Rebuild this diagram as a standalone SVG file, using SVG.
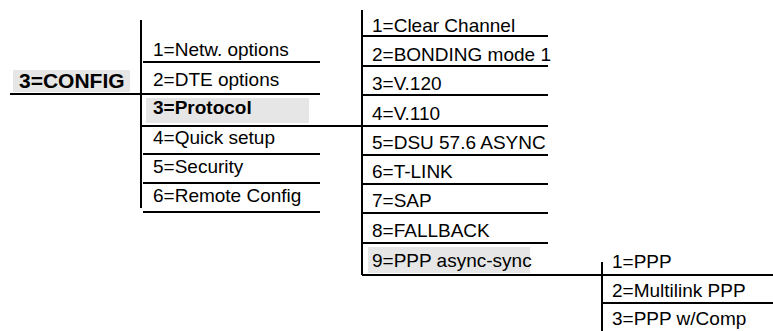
<svg xmlns="http://www.w3.org/2000/svg" width="773" height="331" viewBox="0 0 773 331">
<style>
.t{font-family:"Liberation Sans",Arial,Helvetica,sans-serif;font-size:19px;fill:#000}
.b{font-weight:bold}
.big{font-size:21px}
.hl{fill:#e6e6e6}
.ln{stroke:#000;stroke-width:2;fill:none}
</style>
<rect width="773" height="331" fill="#fff"/>
<g id="n-config"><rect class="hl" x="13" y="70" width="117" height="22"/><text class="t b big" x="19" y="88">3=CONFIG</text></g>
<g id="n-m1"><text class="t" x="153" y="56">1=Netw. options</text></g>
<g id="n-m2"><text class="t" x="153" y="86">2=DTE options</text></g>
<g id="n-m3"><rect class="hl" x="146" y="98" width="163" height="25"/><text class="t b" x="153" y="114">3=Protocol</text></g>
<g id="n-m4"><text class="t" x="153" y="144">4=Quick setup</text></g>
<g id="n-m5"><text class="t" x="153" y="173">5=Security</text></g>
<g id="n-m6"><text class="t" x="153" y="202">6=Remote Config</text></g>
<g id="n-p1"><text class="t" x="372" y="32">1=Clear Channel</text></g>
<g id="n-p2"><text class="t" x="372" y="61">2=BONDING mode 1</text></g>
<g id="n-p3"><text class="t" x="372" y="90">3=V.120</text></g>
<g id="n-p4"><text class="t" x="372" y="120">4=V.110</text></g>
<g id="n-p5"><text class="t" x="372" y="149">5=DSU 57.6 ASYNC</text></g>
<g id="n-p6"><text class="t" x="372" y="178">6=T-LINK</text></g>
<g id="n-p7"><text class="t" x="372" y="207">7=SAP</text></g>
<g id="n-p8"><text class="t" x="372" y="237">8=FALLBACK</text></g>
<g id="n-p9"><rect class="hl" x="368" y="247" width="162" height="26"/><text class="t" x="372" y="267">9=PPP async-sync</text></g>
<g id="n-q1"><text class="t" x="612" y="268">1=PPP</text></g>
<g id="n-q2"><text class="t" x="612" y="297">2=Multilink PPP</text></g>
<g id="n-q3"><text class="t" x="612" y="325">3=PPP w/Comp</text></g>
<g id="connectors" class="ln">
<path d="M10 94H320"/>
<path d="M141 20V208"/>
<path d="M143 62H320M143 154H320M143 183H320M143 212H320"/>
<path d="M141 126H548"/>
<path d="M362 10V275"/>
<path d="M362 36H548M362 66H548M362 95H548M362 155H548M362 184H548M362 213H548M362 243H548"/>
<path d="M362 275H773"/>
<path d="M602 262V331"/>
<path d="M602 303H773"/>
</g>
</svg>
